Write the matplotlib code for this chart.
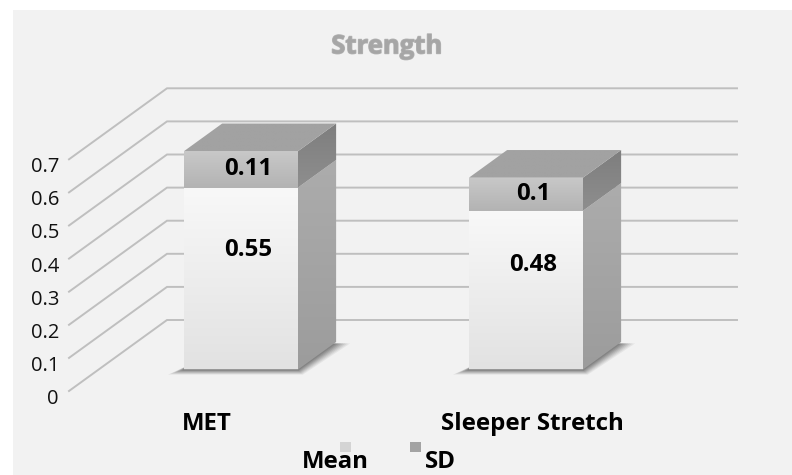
import numpy as np
import matplotlib
matplotlib.use("Agg")
import matplotlib.pyplot as plt
import matplotlib.patheffects as pe
from matplotlib.patches import Polygon, Rectangle

# ---- data ----
categories = ["MET", "Sleeper Stretch"]
mean_vals = [0.55, 0.48]
sd_vals = [0.11, 0.1]
series_names = ["Mean", "SD"]
y_ticks = [0, 0.1, 0.2, 0.3, 0.4, 0.5, 0.6, 0.7]
title = "Strength"

# ---- geometry of the oblique 3D view (category units / value units) ----
W, H = 792, 475
PX_X0 = 69          # pixel x of the front-left floor corner
PX_Y0 = 391         # pixel y of the front-left floor corner
PX_CAT = 285        # pixels per category slot
PX_VAL = 331        # pixels per 1.0 of value
DEPTH_X = 98 / PX_CAT   # full depth shift in x (category units)
DEPTH_Y = 71 / PX_VAL   # full depth shift in y (value units)
BAR_W = 0.40
D0, D1 = 0.30, 0.69     # depth range occupied by the bars

FONT = ["Open Sans", "DejaVu Sans"]
plt.rcParams["font.family"] = FONT
BOLD_SIZE = 17.3

fig = plt.figure(figsize=(W / 100, H / 100), dpi=100)
fig.patch.set_facecolor("white")
ax = fig.add_axes([0, 0, 1, 1])
ax.set_xlim(-PX_X0 / PX_CAT, (W - PX_X0) / PX_CAT)
ax.set_ylim((PX_Y0 - H) / PX_VAL, PX_Y0 / PX_VAL)
ax.axis("off")

# chart area background
ax.add_patch(Rectangle((13 / W, 0), 1 - 13 / W, (H - 10) / H, transform=ax.transAxes,
                       facecolor="#f2f2f2", edgecolor="none", zorder=0))


def proj(x, v, d):
    return (x + d * DEPTH_X, v + d * DEPTH_Y)


# gridlines: side wall diagonals + back wall horizontals
n_cat = len(categories)
for v in y_ticks:
    p0 = proj(0, v, 0)
    p1 = proj(0, v, 1)
    p2 = proj(n_cat, v, 1)
    ax.plot([p0[0], p1[0], p2[0]], [p0[1], p1[1], p2[1]], color="#bfbfbf",
            lw=1.4, solid_joinstyle="miter", zorder=1)
    ax.annotate(f"{v:g}", xy=p0, xytext=(-10, -8), textcoords="offset pixels",
                ha="right", va="center", fontsize=14.5, color="#111111", zorder=2)


def grad_face(verts, top_col, bot_col, z):
    verts = np.asarray(verts)
    poly = Polygon(verts, closed=True, transform=ax.transData,
                   facecolor="none", edgecolor="none", zorder=z)
    ax.add_patch(poly)
    c0 = np.array(matplotlib.colors.to_rgb(top_col))
    c1 = np.array(matplotlib.colors.to_rgb(bot_col))
    t = np.linspace(0, 1, 64)
    img = (c0[None, :] * (1 - t[:, None]) + c1[None, :] * t[:, None])[:, None, :]
    xmn, ymn = verts.min(axis=0)
    xmx, ymx = verts.max(axis=0)
    im = ax.imshow(img, extent=(xmn, xmx, ymn, ymx), origin="upper",
                   aspect="auto", interpolation="bilinear", zorder=z)
    im.set_clip_path(poly)


def draw_shadow(xl, xr):
    # soft floor shadow around the bar footprint
    for k, a in zip(np.linspace(1.0, 0.0, 8), np.linspace(0.07, 0.16, 8)):
        ex = k * 16 / PX_CAT
        ey = k * 5 / PX_VAL
        pts = [proj(xl - ex, -ey, D0), proj(xr + ex * 0.3, -ey, D0),
               proj(xr + ex, 0, D1 - 0.02), proj(xl + ex, 0, D1 - 0.02)]
        ax.add_patch(Polygon(pts, closed=True, facecolor="#303030",
                             edgecolor="none", alpha=a, zorder=3))


for i, cat in enumerate(categories):
    xc = i + 0.5
    xl, xr = xc - BAR_W / 2, xc + BAR_W / 2
    m, s = mean_vals[i], sd_vals[i]
    top = m + s
    draw_shadow(xl, xr)

    # Mean segment
    grad_face([proj(xr, 0, D0), proj(xr, 0, D1), proj(xr, m, D1), proj(xr, m, D0)],
              "#acacac", "#9c9c9c", 4)
    grad_face([proj(xl, 0, D0), proj(xr, 0, D0), proj(xr, m, D0), proj(xl, m, D0)],
              "#f8f8f8", "#e2e2e2", 5)
    # SD segment
    grad_face([proj(xr, m, D0), proj(xr, m, D1), proj(xr, top, D1), proj(xr, top, D0)],
              "#7e7e7e", "#8e8e8e", 4)
    grad_face([proj(xl, m, D0), proj(xr, m, D0), proj(xr, top, D0), proj(xl, top, D0)],
              "#c8c8c8", "#b3b3b3", 5)
    grad_face([proj(xl, top, D0), proj(xr, top, D0), proj(xr, top, D1), proj(xl, top, D1)],
              "#a2a2a2", "#a2a2a2", 5)
    # base edge line
    b0, b1 = proj(xl, 0, D0), proj(xr, 0, D0)
    ax.plot([b0[0], b1[0]], [b0[1], b1[1]], color="#8a8a8a", lw=1.2, zorder=6)

    # data labels
    fx, fy = proj(xc, 0, D0)
    ax.annotate(f"{m:g}", xy=(fx, fy + m * 0.66), xytext=(7, 0), textcoords="offset pixels",
                ha="center", va="center", fontsize=BOLD_SIZE, fontweight="bold",
                color="black", zorder=7)
    ax.annotate(f"{s:g}", xy=(fx, fy + m + s / 2), xytext=(7, 0), textcoords="offset pixels",
                ha="center", va="center", fontsize=BOLD_SIZE, fontweight="bold",
                color="black", zorder=7)

    # category label
    cx, cy = proj(xc, 0, 0)
    ax.annotate(cat, xy=(cx, cy), xytext=(-5 + 41 * i, -33), textcoords="offset pixels",
                ha="center", va="center", fontsize=BOLD_SIZE, fontweight="bold",
                color="black", zorder=7)

# title
ax.text(387 / W, 1 - 46 / H, title, transform=ax.transAxes, ha="center", va="center",
        fontsize=18.5, fontweight="bold", color="#a6a6a6", zorder=7,
        path_effects=[pe.withStroke(linewidth=1.0, foreground="#b4b4b4")])

# legend
leg_colors = ["#d4d4d4", "#a3a3a3"]
leg_marker_x = [340, 410]
leg_text_x = [302, 425]
for name, col, mx, tx in zip(series_names, leg_colors, leg_marker_x, leg_text_x):
    ax.text(tx / W, 1 - 468 / H, name, transform=ax.transAxes, ha="left", va="baseline",
            fontsize=BOLD_SIZE, fontweight="bold", color="black", zorder=7)
    ax.add_patch(Rectangle((mx / W, 1 - 452 / H), 11 / W, 10 / H, transform=ax.transAxes,
                           facecolor=col, edgecolor="none", zorder=8))

fig.savefig("out.png", dpi=100, facecolor=fig.get_facecolor())
